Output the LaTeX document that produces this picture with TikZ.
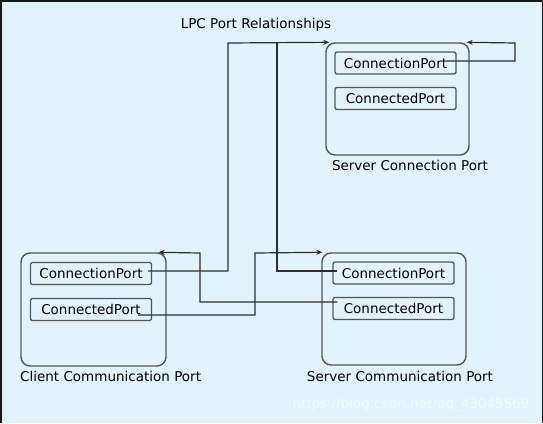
\documentclass[tikz,border=0pt]{standalone}
\usepackage{fontspec}
\setmainfont{DejaVu Sans}
\usetikzlibrary{arrows.meta}

\definecolor{paneblue}{HTML}{E1F3FB}
\definecolor{linegray}{HTML}{2E2E2E}
\definecolor{boxgray}{HTML}{555555}

\begin{document}
\begin{tikzpicture}[
        x=1pt, y=-1pt,
        >={Stealth[length=6pt,width=5pt]},
        portbox/.style={draw=boxgray, line width=1.4pt, rounded corners=9pt,
            minimum width=144pt, minimum height=112pt},
        portfield/.style={draw=boxgray, line width=1.3pt, rounded corners=2pt,
            minimum width=121pt, minimum height=22pt, inner sep=0pt,
            font=\fontsize{13.5}{15}\selectfont},
        caption/.style={font=\fontsize{13.5}{15}\selectfont, inner sep=0pt},
        link/.style={draw=linegray, line width=1.2pt}
    ]
        % Hintergrund
        \useasboundingbox (0,0) rectangle (543,423);
        \fill[paneblue] (0,0) rectangle (543,423);
        \draw[black!90, line width=3pt] (0,423) -- (0,0) -- (543,0) -- (543,423);

        % Titel
        \node[caption] (title) at (256,25) {LPC Port Relationships};

        % Server Connection Port
        \node[portbox, minimum width=143pt] (scp) at (397.5,99) {};
        \node[portfield] (scp-conn) at (395.5,63) {ConnectionPort};
        \node[portfield] (scp-cnd) at (395.5,98.5) {ConnectedPort};
        \node[caption] (scp-lbl) at (410,165) {Server Connection Port};

        % Client Communication Port
        \node[portbox, minimum width=145pt, minimum height=113pt] (ccp) at (93.5,309.5) {};
        \node[portfield] (ccp-conn) at (91,273.5) {ConnectionPort};
        \node[portfield] (ccp-cnd) at (91,309.5) {ConnectedPort};
        \node[caption, anchor=west] (ccp-lbl) at (20,376) {Client Communication Port};

        % Server Communication Port
        \node[portbox] (scm) at (394,309) {};
        \node[portfield] (scm-conn) at (393.5,273) {ConnectionPort};
        \node[portfield] (scm-cnd) at (393.5,308.5) {ConnectedPort};
        \node[caption] (scm-lbl) at (400,376) {Server Communication Port};

        % Knickpunkte
        \coordinate (top-a) at (228,43);
        \coordinate (top-b) at (277,43);
        \coordinate (loop) at (515,43);
        \coordinate (mid-a) at (255,253);
        \coordinate (mid-b) at (200,253);

        % Verbindungen
        \draw[link, ->] ([xshift=-4pt,yshift=2.5pt]ccp-conn.east) -| (top-a) -- ([xshift=4pt]scp.north west);
        \draw[link] ([xshift=5pt,yshift=2pt]scm-conn.west) -| (top-b);
        \draw[link, ->] ([xshift=-10pt,yshift=2pt]scp-conn.east) -| (loop) -- ([xshift=-3pt]scp.north east);
        \draw[link, ->] ([xshift=-14pt,yshift=-5.5pt]ccp-cnd.east) -| (mid-a) -- ([xshift=1pt]scm.north west);
        \draw[link, ->] ([xshift=5pt,yshift=6.5pt]scm-cnd.west) -| (mid-b) -- ([xshift=-8pt]ccp.north east);

        % Wasserzeichen
        \node[font=\fontsize{13.5}{15}\selectfont, text=white, opacity=0.6] (mark) at (411,405) {https://blog.csdn.net/qq\_43045569};
    \end{tikzpicture}
\end{document}
